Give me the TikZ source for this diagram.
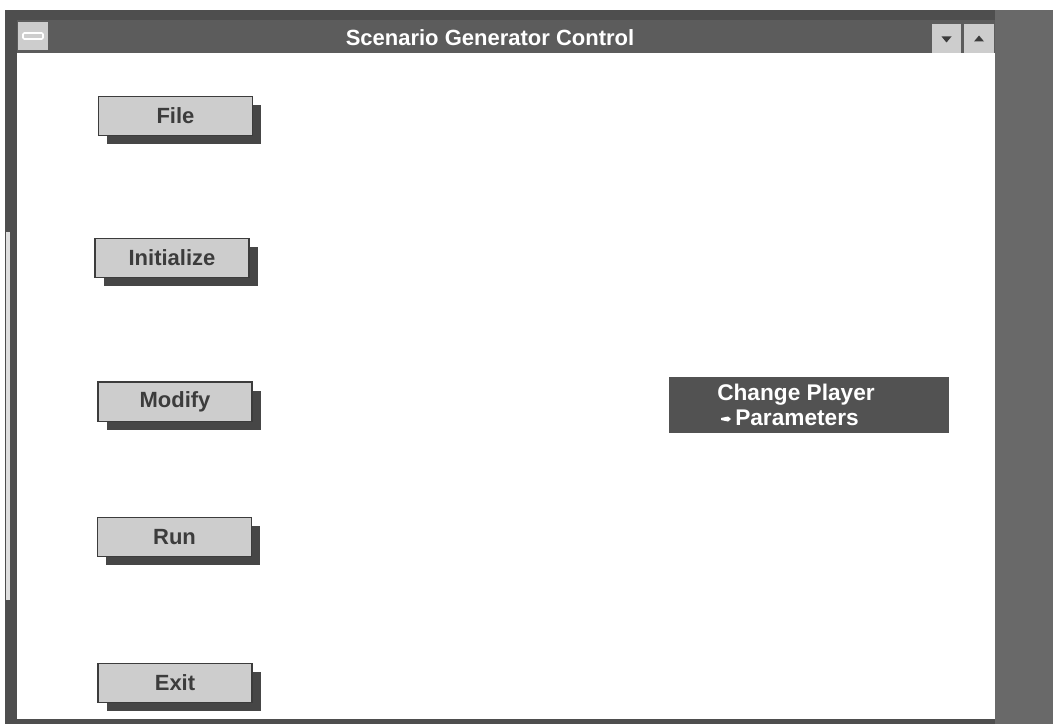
\documentclass[tikz,border=0pt]{standalone}
\usepackage{fontspec}
\setmainfont{Liberation Sans}
\usetikzlibrary{shadows,calc}
\definecolor{framegray}{RGB}{78,78,78}
\definecolor{barGray}{RGB}{92,92,92}
\definecolor{sideGray}{RGB}{105,105,105}
\definecolor{btnGray}{RGB}{205,205,205}
\definecolor{shadowGray}{RGB}{70,70,70}
\definecolor{panelGray}{RGB}{82,82,82}
\definecolor{textGray}{RGB}{60,60,60}
\tikzset{
  cmdbutton/.style={draw=textGray, line width=1pt, fill=btnGray,
    minimum width=115.5pt, minimum height=29.5pt, inner sep=0pt,
    font=\fontsize{16.5}{18}\selectfont\bfseries, text=textGray,
    drop shadow={shadow xshift=6.5pt, shadow yshift=-6.5pt,
      fill=shadowGray, opacity=1}},
  winbtn/.style={fill=btnGray, draw=none, minimum width=22pt,
    minimum height=21.5pt, inner sep=0pt},
  panel/.style={fill=panelGray, draw=none, minimum width=210pt,
    minimum height=42pt, inner sep=0pt},
  paneltext/.style={anchor=base west, text=white, inner sep=0pt,
    font=\fontsize{17}{18}\selectfont\bfseries}
}
\begin{document}
\begin{tikzpicture}[x=0.75pt,y=-0.75pt]
  % page extent
  \useasboundingbox (0,0) rectangle (1053,724);
  \fill[white] (0,0) rectangle (1053,724);

  % window frame: grey strip on the right, borders, client area
  \fill[sideGray] (995,10) rectangle (1053,724);
  \fill[framegray] (5,10) rectangle (995,724);
  \fill[white] (17,53) rectangle (995,719);
  % title bar
  \fill[barGray] (17,20) rectangle (995,53);
  % light strip on the left border
  \fill[gray!25] (6,232) rectangle (10,600);

  % system menu box
  \node[winbtn, minimum width=22.5pt] (sysmenu) at (33,36) {};
  \draw[white, line width=1.2pt, rounded corners=1pt] (23,33) rectangle (43,39);

  % minimise / maximise buttons
  \node[winbtn] (minbtn) at (946.5,38.5) {};
  \node[winbtn, minimum width=23pt] (maxbtn) at (979,38.5) {};
  \fill[textGray] ($(minbtn.center)+(-5,-2)$) -- ++(10,0) -- ++(-5,6) -- cycle;
  \fill[textGray] ($(maxbtn.center)+(-5,3)$) -- ++(10,0) -- ++(-5,-6) -- cycle;

  % window title
  \node[text=white, font=\fontsize{16.5}{18}\selectfont\bfseries] (title)
    at (490,38) {Scenario Generator Control};

  % command buttons
  \node[cmdbutton] (file) at (175.5,116) {File};
  \node[cmdbutton] (init) at (172,258) {Initialize};
  \node[cmdbutton] (modify) at (175,401.5) {Modify};
  \node[cmdbutton] (run) at (174.5,537) {Run};
  \node[cmdbutton] (exit) at (175,683) {Exit};

  % highlighted panel on the right
  \node[panel] (change) at (809,405) {};
  \node[paneltext] (line1) at (717,400) {Change Player};
  \node[paneltext] (line2) at (735,425) {Parameters};
  \fill[white] ($(line2.base west)+(-14,-7)$) -- ++(7,-1.5) -- ++(3,2.5)
    -- ++(-3,2.5) -- ++(-7,-1.5) -- cycle;
\end{tikzpicture}
\end{document}
